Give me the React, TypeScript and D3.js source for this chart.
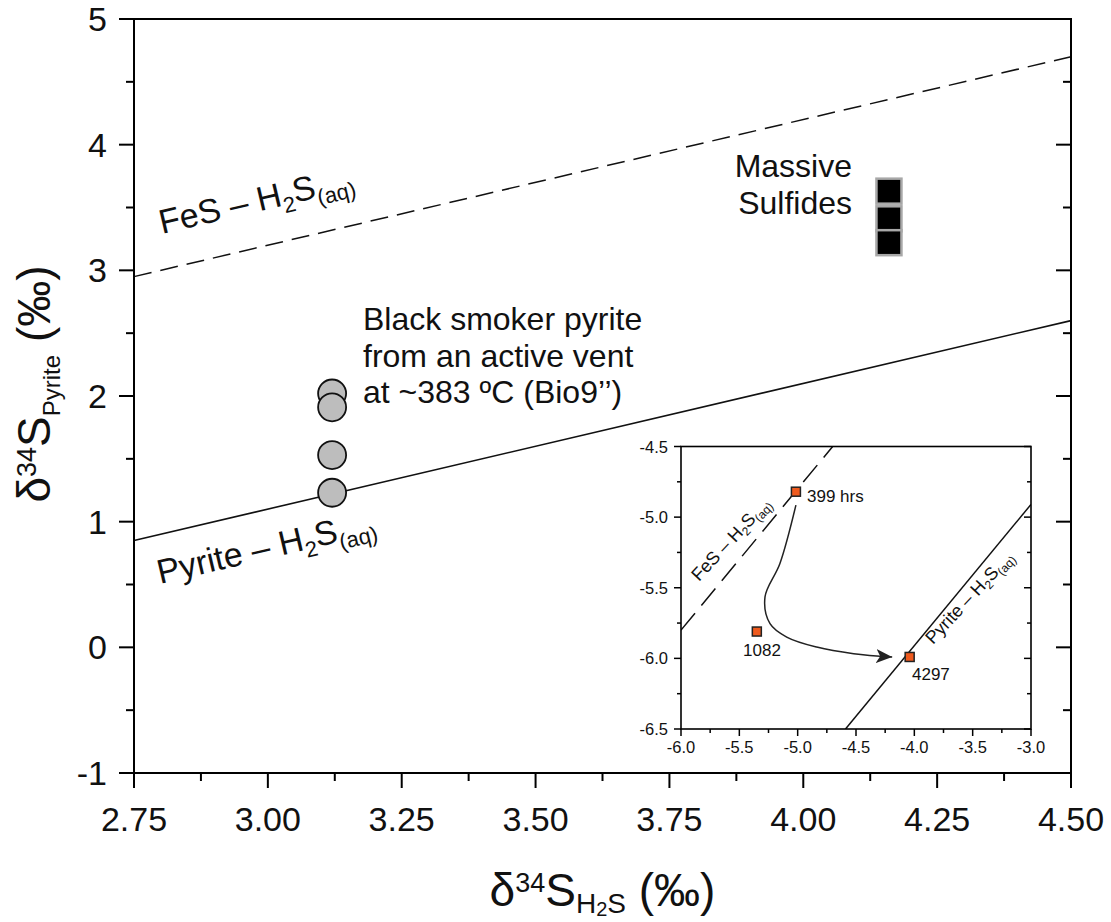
import * as d3 from 'd3';

// main panel
const X_TICKS = [2.75, 3.0, 3.25, 3.5, 3.75, 4.0, 4.25, 4.5];
const X_TICK_LABELS = ['2.75', '3.00', '3.25', '3.50', '3.75', '4.00', '4.25', '4.50'];
const Y_TICKS = [-1, 0, 1, 2, 3, 4, 5];
const Y_TICK_LABELS = ['-1', '0', '1', '2', '3', '4', '5'];

const smokerX = [3.12, 3.12, 3.12, 3.12];
const smokerY = [2.02, 1.91, 1.53, 1.23];
const massiveX = [4.16, 4.16, 4.16];
const massiveY = [3.63, 3.41, 3.22];

const pyriteLineX = [2.75, 4.5];
const pyriteLineY = [0.85, 2.6];
const fesLineX = [2.75, 4.5];
const fesLineY = [2.95, 4.7];

// inset
const IN_X_TICKS = [-6.0, -5.5, -5.0, -4.5, -4.0, -3.5, -3.0];
const IN_X_LABELS = ['-6.0', '-5.5', '-5.0', '-4.5', '-4.0', '-3.5', '-3.0'];
const IN_Y_TICKS = [-6.5, -6.0, -5.5, -5.0, -4.5];
const IN_Y_LABELS = ['-6.5', '-6.0', '-5.5', '-5.0', '-4.5'];

const expX = [-5.015, -5.35, -4.04];
const expY = [-4.82, -5.81, -5.99];
const expLabels = ['399 hrs', '1082', '4297'];

const inPyriteX = [-4.59, -3.0];
const inPyriteY = [-6.5, -4.91];
const inFesX = [-6.0, -4.7];
const inFesY = [-5.8, -4.5];

const arrowX = [-5.015, -5.152, -5.28, -5.237, -5.094, -4.837, -4.52, -4.19];
const arrowY = [-4.915, -5.328, -5.565, -5.754, -5.849, -5.92, -5.967, -5.99];

const FONT = 'Liberation Sans, Arial, Helvetica, sans-serif';
const W = 1111;
const H = 922;
const M = { left: 134, right: 1071, top: 19, bottom: 773 };
const IN = { left: 681, right: 1031, top: 446.5, bottom: 729 };

export default function App() {
  const x = d3.scaleLinear().domain([2.75, 4.5]).range([M.left, M.right]);
  const y = d3.scaleLinear().domain([-1, 5]).range([M.bottom, M.top]);
  const ix = d3.scaleLinear().domain([-6, -3]).range([IN.left, IN.right]);
  const iy = d3.scaleLinear().domain([-6.5, -4.5]).range([IN.bottom, IN.top]);

  const xMinor = d3.range(2.875, 4.5, 0.25);
  const yMinor = d3.range(-0.5, 5, 1);
  const ixMinor = d3.range(-5.75, -3, 0.5);
  const iyMinor = d3.range(-6.25, -4.5, 0.5);

  const seg = (xs: number[], ys: number[], sx: any, sy: any) =>
    d3.line<number>().x((_, i) => sx(xs[i])).y((_, i) => sy(ys[i]))(xs) || '';

  const arrowPath = d3.line<number>()
    .x((_, i) => ix(arrowX[i]))
    .y((_, i) => iy(arrowY[i]))
    .curve(d3.curveCatmullRom.alpha(0.5))(arrowX) || '';

  const mainAngle = -13.2;
  const inAngle = -47;

  return (
    <svg width={W} height={H} style={{ position: 'absolute', left: 0, top: 0, background: '#fff' }} fontFamily={FONT}>
      <defs>
        <marker id="ah" markerUnits="userSpaceOnUse" markerWidth={18} markerHeight={14} refX={16} refY={7} orient="auto">
          <path d="M0,0 L16,7 L0,14 L4,7 Z" fill="#222" />
        </marker>
      </defs>

      {/* main lines */}
      <path d={seg(fesLineX, fesLineY, x, y)} stroke="#111" strokeWidth={1.5} strokeDasharray="18,9" fill="none" />
      <path d={seg(pyriteLineX, pyriteLineY, x, y)} stroke="#111" strokeWidth={1.6} fill="none" />

      {/* main frame & ticks */}
      <rect x={M.left} y={M.top} width={M.right - M.left} height={M.bottom - M.top} fill="none" stroke="#000" strokeWidth={2} />
      {X_TICKS.map((t, i) => (
        <g key={'xt' + i}>
          <line x1={x(t)} x2={x(t)} y1={M.bottom} y2={M.bottom + 15} stroke="#000" strokeWidth={2} />
          <text x={x(t)} y={831} fontSize={34} textAnchor="middle" fill="#111">{X_TICK_LABELS[i]}</text>
        </g>
      ))}
      {xMinor.map((t, i) => (
        <line key={'xm' + i} x1={x(t)} x2={x(t)} y1={M.bottom} y2={M.bottom + 8} stroke="#000" strokeWidth={2} />
      ))}
      {Y_TICKS.map((t, i) => (
        <g key={'yt' + i}>
          <line x1={M.left - 15} x2={M.left} y1={y(t)} y2={y(t)} stroke="#000" strokeWidth={2} />
          <line x1={M.right - 15} x2={M.right} y1={y(t)} y2={y(t)} stroke="#000" strokeWidth={2} />
          <text x={107} y={y(t) + 12} fontSize={34} textAnchor="end" fill="#111">{Y_TICK_LABELS[i]}</text>
        </g>
      ))}
      {yMinor.map((t, i) => (
        <g key={'ym' + i}>
          <line x1={M.left - 8} x2={M.left} y1={y(t)} y2={y(t)} stroke="#000" strokeWidth={2} />
          <line x1={M.right - 8} x2={M.right} y1={y(t)} y2={y(t)} stroke="#000" strokeWidth={2} />
        </g>
      ))}

      {/* axis titles */}
      <text x={(M.left + M.right) / 2} y={906} fontSize={46} textAnchor="middle" fill="#111">
        δ<tspan fontSize={27} dy={-14}>34</tspan><tspan dy={14}>S</tspan>
        <tspan fontSize={28} dy={7}>H</tspan><tspan fontSize={20} dy={3}>2</tspan><tspan fontSize={28} dy={-3}>S</tspan>
        <tspan dy={-7}> (‰)</tspan>
      </text>
      <text transform={`translate(50,384) rotate(-90)`} fontSize={46} textAnchor="middle" fill="#111">
        δ<tspan fontSize={27} dy={-14}>34</tspan><tspan dy={14}>S</tspan>
        <tspan fontSize={24} dy={10}>Pyrite</tspan>
        <tspan dy={-10}> (‰)</tspan>
      </text>

      {/* line labels */}
      <text transform={`translate(162,234) rotate(${mainAngle})`} fontSize={34} fill="#111">
        FeS – H<tspan fontSize={22} dy={8}>2</tspan><tspan fontSize={34} dy={-8}>S</tspan><tspan fontSize={22} dy={8}>(aq)</tspan>
      </text>
      <text transform={`translate(160,584) rotate(${mainAngle})`} fontSize={34} fill="#111">
        Pyrite – H<tspan fontSize={22} dy={8}>2</tspan><tspan fontSize={34} dy={-8}>S</tspan><tspan fontSize={22} dy={8}>(aq)</tspan>
      </text>

      {/* annotations */}
      <text x={363} y={330} fontSize={32} fill="#111">
        <tspan x={363}>Black smoker pyrite</tspan>
        <tspan x={363} dy={36.5}>from an active vent</tspan>
        <tspan x={363} dy={36.5}>at ~383 ºC (Bio9’’)</tspan>
      </text>
      <text x={852} y={177} fontSize={32} textAnchor="end" fill="#111">
        <tspan x={852}>Massive</tspan>
        <tspan x={852} dy={37}>Sulfides</tspan>
      </text>

      {/* markers */}
      {smokerX.map((v, i) => (
        <circle key={'c' + i} cx={x(v)} cy={y(smokerY[i])} r={14} fill="#bdbdbd" stroke="#111" strokeWidth={1.8} />
      ))}
      {massiveX.map((v, i) => (
        <rect key={'s' + i} x={x(v) - 12.5} y={y(massiveY[i]) - 12.5} width={25} height={25} fill="#000" stroke="#a8a8a8" strokeWidth={2.5} />
      ))}

      {/* inset */}
      <rect x={IN.left} y={IN.top} width={IN.right - IN.left} height={IN.bottom - IN.top} fill="#fff" />
      <clipPath id="inclip">
        <rect x={IN.left} y={IN.top} width={IN.right - IN.left} height={IN.bottom - IN.top} />
      </clipPath>
      <g clipPath="url(#inclip)">
        <path d={seg(inFesX, inFesY, ix, iy)} stroke="#111" strokeWidth={1.5} strokeDasharray="22,10" fill="none" />
        <path d={seg(inPyriteX, inPyriteY, ix, iy)} stroke="#111" strokeWidth={1.5} fill="none" />
      </g>
      <path d={arrowPath} stroke="#222" strokeWidth={1.5} fill="none" markerEnd="url(#ah)" />
      <rect x={IN.left} y={IN.top} width={IN.right - IN.left} height={IN.bottom - IN.top} fill="none" stroke="#000" strokeWidth={1.6} />
      {IN_X_TICKS.map((t, i) => (
        <g key={'ixt' + i}>
          <line x1={ix(t)} x2={ix(t)} y1={IN.bottom} y2={IN.bottom + 7} stroke="#000" strokeWidth={1.5} />
          <text x={ix(t)} y={753} fontSize={16.5} textAnchor="middle" fill="#111">{IN_X_LABELS[i]}</text>
        </g>
      ))}
      {ixMinor.map((t, i) => (
        <line key={'ixm' + i} x1={ix(t)} x2={ix(t)} y1={IN.bottom} y2={IN.bottom + 4} stroke="#000" strokeWidth={1.5} />
      ))}
      {IN_Y_TICKS.map((t, i) => (
        <g key={'iyt' + i}>
          <line x1={IN.left - 7} x2={IN.left} y1={iy(t)} y2={iy(t)} stroke="#000" strokeWidth={1.5} />
          <line x1={IN.right - 7} x2={IN.right} y1={iy(t)} y2={iy(t)} stroke="#000" strokeWidth={1.5} />
          <text x={668} y={iy(t) + 6} fontSize={16.5} textAnchor="end" fill="#111">{IN_Y_LABELS[i]}</text>
        </g>
      ))}
      {iyMinor.map((t, i) => (
        <g key={'iym' + i}>
          <line x1={IN.left - 4} x2={IN.left} y1={iy(t)} y2={iy(t)} stroke="#000" strokeWidth={1.5} />
          <line x1={IN.right - 4} x2={IN.right} y1={iy(t)} y2={iy(t)} stroke="#000" strokeWidth={1.5} />
        </g>
      ))}

      <text transform={`translate(699,582) rotate(${inAngle})`} fontSize={18} fill="#111">
        FeS – H<tspan fontSize={12} dy={4}>2</tspan><tspan fontSize={18} dy={-4}>S</tspan><tspan fontSize={12} dy={4}>(aq)</tspan>
      </text>
      <text transform={`translate(933,645) rotate(${inAngle})`} fontSize={18} fill="#111">
        Pyrite – H<tspan fontSize={12} dy={4}>2</tspan><tspan fontSize={18} dy={-4}>S</tspan><tspan fontSize={12} dy={4}>(aq)</tspan>
      </text>

      {expX.map((v, i) => (
        <rect key={'e' + i} x={ix(v) - 4.5} y={iy(expY[i]) - 4.5} width={9} height={9} fill="#ee5a1e" stroke="#222" strokeWidth={1.5} />
      ))}
      <text x={807} y={502} fontSize={17} fill="#111">{expLabels[0]}</text>
      <text x={762} y={656} fontSize={17} textAnchor="middle" fill="#111">{expLabels[1]}</text>
      <text x={912} y={680} fontSize={17} fill="#111">{expLabels[2]}</text>
    </svg>
  );
}
